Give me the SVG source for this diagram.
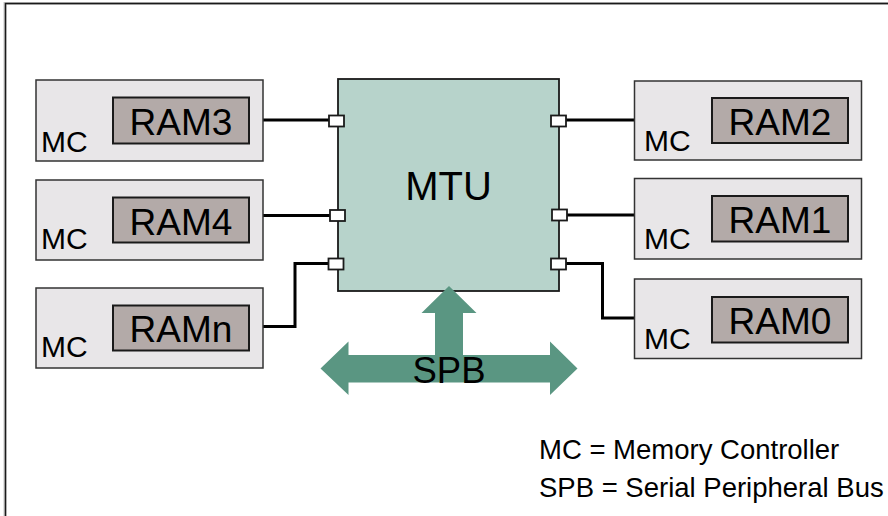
<svg xmlns="http://www.w3.org/2000/svg" width="888" height="516" viewBox="0 0 888 516">
<style>
.mc{fill:#e8e6e8;stroke:#333;stroke-width:1.5}
.ram{fill:#b3aaa8;stroke:#1a1a1a;stroke-width:2}
.port{fill:#fff;stroke:#1a1a1a;stroke-width:1.8}
.t{font-family:"Liberation Sans",Arial,sans-serif;fill:#000}
.mct{font-size:30px}
.ramt{font-size:37px;text-anchor:middle}
.wire{fill:none;stroke:#000;stroke-width:3}
</style>
<rect width="888" height="516" fill="#fff"/>
<rect x="5" y="3.5" width="900" height="530" fill="none" stroke="#c8c8c8" stroke-width="3"/>
<rect x="5.5" y="3.5" width="900" height="530" fill="none" stroke="#1a1a1a" stroke-width="1.5"/>

<g id="connectors">
<polyline class="wire" points="263,120 330,120"/>
<polyline class="wire" points="263,215.5 330,215.5"/>
<polyline class="wire" points="263,326.5 295,326.5 295,263.5 329,263.5"/>
<polyline class="wire" points="566,120 635,120"/>
<polyline class="wire" points="566,215 635,215"/>
<polyline class="wire" points="566,263.5 602.5,263.5 602.5,318 635,318"/>
</g>

<g id="MTU">
<rect x="338" y="79" width="221" height="212" fill="#b7d3cb" stroke="#1a1a1a" stroke-width="1.8"/>
<text class="t" x="448.5" y="200" font-size="40" text-anchor="middle">MTU</text>
<rect class="port" x="329" y="115.5" width="15" height="11"/>
<rect class="port" x="330" y="210" width="15" height="11"/>
<rect class="port" x="328.5" y="258.5" width="15" height="11"/>
<rect class="port" x="551" y="115.5" width="15" height="11"/>
<rect class="port" x="552" y="209.5" width="15" height="11"/>
<rect class="port" x="551" y="258.5" width="15" height="11"/>
</g>

<g id="SPB">
<polygon fill="#5a9682" points="449,286 476.5,313 463,313 463,355 550,355 550,341.5 577.5,368.5 550,395 550,382.5 348.5,382.5 348.5,395 320.5,368.5 348.5,341.5 348.5,355 435,355 435,313 421.5,313"/>
<text class="t" x="449" y="383" font-size="36.5" text-anchor="middle">SPB</text>
</g>

<g id="RAM3">
<rect class="mc" x="36" y="80" width="227" height="81"/>
<rect class="ram" x="113" y="97.5" width="136" height="46"/>
<text class="t ramt" x="181" y="134.5">RAM3</text>
<text class="t mct" x="41" y="151.5">MC</text>
</g>
<g id="RAM4">
<rect class="mc" x="36" y="180" width="227" height="80"/>
<rect class="ram" x="113" y="197.5" width="136" height="45"/>
<text class="t ramt" x="181" y="234.5">RAM4</text>
<text class="t mct" x="41" y="248.5">MC</text>
</g>
<g id="RAMn">
<rect class="mc" x="36" y="288" width="227" height="80"/>
<rect class="ram" x="113" y="305.5" width="136" height="45"/>
<text class="t ramt" x="181" y="342">RAMn</text>
<text class="t mct" x="41" y="357">MC</text>
</g>
<g id="RAM2">
<rect class="mc" x="634.5" y="81" width="227" height="79"/>
<rect class="ram" x="712" y="98" width="136" height="45"/>
<text class="t ramt" x="780" y="134.5">RAM2</text>
<text class="t mct" x="644" y="150.5">MC</text>
</g>
<g id="RAM1">
<rect class="mc" x="634.5" y="178.5" width="227" height="80.5"/>
<rect class="ram" x="712" y="196" width="136" height="45.5"/>
<text class="t ramt" x="780" y="233">RAM1</text>
<text class="t mct" x="644" y="248.5">MC</text>
</g>
<g id="RAM0">
<rect class="mc" x="634.5" y="279" width="227" height="79.5"/>
<rect class="ram" x="712" y="297" width="136" height="45.5"/>
<text class="t ramt" x="780" y="334">RAM0</text>
<text class="t mct" x="644" y="348.5">MC</text>
</g>

<g id="legend">
<text class="t" x="539" y="459" font-size="27.5">MC = Memory Controller</text>
<text class="t" x="539" y="497" font-size="27.5">SPB = Serial Peripheral Bus</text>
</g>
</svg>
